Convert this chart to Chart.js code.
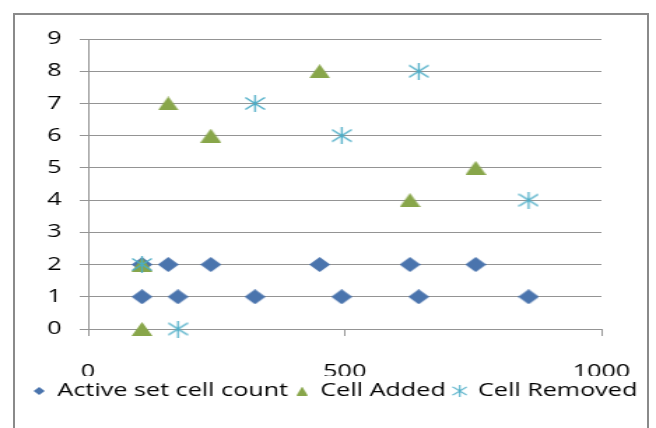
<!DOCTYPE html>
<html>
<head>
<meta charset="utf-8">
<script src="https://cdn.jsdelivr.net/npm/chart.js@4/dist/chart.umd.min.js"></script>
<style>
  html, body { margin: 0; padding: 0; background: #fff; overflow: hidden; }
  #frame { position: absolute; left: 13px; top: 13px; width: 632px; height: 440px; border: 2px solid #8a8a8a; }
  #wrap { position: absolute; left: 0; top: 0; width: 469px; height: 428px; transform: scaleX(1.3987); transform-origin: 0 0; }
</style>
</head>
<body>
<div id="frame"></div>
<div id="wrap"><canvas id="c" width="469" height="428"></canvas></div>
<script>
// Series names
const seriesNames = ['Active set cell count', 'Cell Added', 'Cell Removed'];

// Active set cell count
const activeX = [105, 156, 239, 451, 627, 755, 105, 175, 325, 494, 644, 858];
const activeY = [2, 2, 2, 2, 2, 2, 1, 1, 1, 1, 1, 1];

// Cell Added
const addedX = [105, 105, 156, 239, 451, 627, 755];
const addedY = [2, 0, 7, 6, 8, 4, 5];

// Cell Removed
const removedX = [105, 175, 325, 494, 644, 858];
const removedY = [2, 0, 7, 6, 8, 4];

// Axis ticks
const xTicks = [0, 500, 1000];
const yTicks = [0, 1, 2, 3, 4, 5, 6, 7, 8, 9];

const pairs = (xs, ys) => xs.map((x, i) => ({ x: x, y: ys[i] }));

// Marker glyphs
function mark(w, h, paint) {
  const c = document.createElement('canvas');
  c.width = w; c.height = h;
  paint(c.getContext('2d'), w, h);
  return c;
}
const diamond = (w, h, color) => mark(w, h, (g) => {
  g.fillStyle = color;
  g.beginPath();
  g.moveTo(w / 2, 0); g.lineTo(w, h / 2); g.lineTo(w / 2, h); g.lineTo(0, h / 2);
  g.closePath(); g.fill();
});
const triangle = (w, h, color) => mark(w, h, (g) => {
  g.fillStyle = color;
  g.beginPath();
  g.moveTo(w / 2, 0); g.lineTo(w, h); g.lineTo(0, h);
  g.closePath(); g.fill();
});
const asterisk = (w, h, color, lw) => mark(w, h, (g) => {
  g.strokeStyle = color;
  g.lineWidth = lw;
  g.beginPath();
  g.moveTo(w / 2, 0); g.lineTo(w / 2, h);
  g.moveTo(0.5, h * 0.15); g.lineTo(w - 0.5, h * 0.85);
  g.moveTo(w - 0.5, h * 0.15); g.lineTo(0.5, h * 0.85);
  g.stroke();
});

const BLUE = '#4A74AD', GREEN = '#88A64A', CYAN = '#4BACC6';
const pointMarks = [diamond(15, 15, BLUE), triangle(15, 14, GREEN), asterisk(15, 17, CYAN, 1.3)];
const legendMarks = [diamond(8, 8, BLUE), triangle(8, 9, GREEN), asterisk(11, 12, CYAN, 1.1)];

const FONT = { family: '"Open Sans", sans-serif', size: 18 };
const GRID = '#949494';

new Chart(document.getElementById('c'), {
  type: 'scatter',
  data: {
    datasets: [
      { label: seriesNames[0], data: pairs(activeX, activeY), pointStyle: pointMarks[0], order: 2 },
      { label: seriesNames[1], data: pairs(addedX, addedY), pointStyle: pointMarks[1], order: 1 },
      { label: seriesNames[2], data: pairs(removedX, removedY), pointStyle: pointMarks[2], order: 0 }
    ].map(d => Object.assign(d, { pointRadius: 6, pointHoverRadius: 6, clip: false }))
  },
  options: {
    responsive: false,
    animation: false,
    events: [],
    layout: { padding: { top: 39, left: 18, right: 0, bottom: 18 } },
    plugins: {
      tooltip: { enabled: false },
      legend: {
        position: 'bottom',
        align: 'start',
        labels: {
          usePointStyle: true,
          boxWidth: 8,
          padding: 6,
          color: '#000',
          font: FONT,
          generateLabels: (chart) => chart.data.datasets.map((ds, i) => ({
            text: ds.label,
            pointStyle: legendMarks[i],
            fillStyle: 'rgba(0,0,0,0)',
            strokeStyle: 'rgba(0,0,0,0)',
            lineWidth: 0,
            hidden: false,
            fontColor: '#000',
            datasetIndex: i
          }))
        }
      }
    },
    scales: {
      x: {
        type: 'linear',
        min: 0, max: 1000,
        afterBuildTicks: (s) => { s.ticks = xTicks.map(v => ({ value: v })); },
        afterFit: (s) => { s.height = 47; s.paddingLeft = 0; s.paddingRight = 0; },
        ticks: { color: '#000', font: FONT, padding: 25, maxRotation: 0, callback: (v) => String(v) },
        grid: { drawOnChartArea: false, drawTicks: true, tickLength: 7, color: GRID },
        border: { display: true, color: GRID }
      },
      y: {
        type: 'linear',
        min: 0, max: 9,
        afterBuildTicks: (s) => { s.ticks = yTicks.map(v => ({ value: v })); },
        afterFit: (s) => { s.width = 45; },
        ticks: { color: '#000', font: FONT, padding: 13, callback: (v) => String(v) },
        grid: { color: GRID, tickLength: 6 },
        border: { display: true, color: GRID }
      },
      yPad: {
        type: 'linear',
        position: 'right',
        display: true,
        afterFit: (s) => { s.width = 39; },
        ticks: { display: false },
        grid: { display: false, drawTicks: false },
        border: { display: false }
      }
    }
  }
});
</script>
</body>
</html>
